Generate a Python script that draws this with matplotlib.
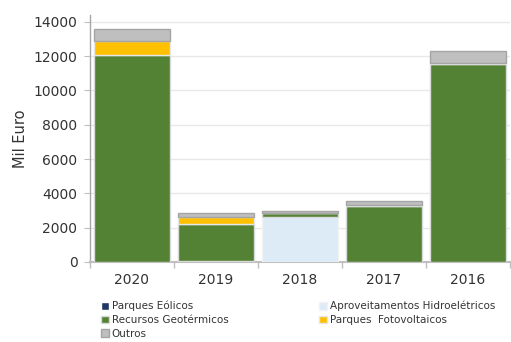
import matplotlib
matplotlib.use("Agg")
import matplotlib.pyplot as plt
import numpy as np

anos = ["2020", "2019", "2018", "2017", "2016"]
eolicos = [0, 0, 0, 0, 0]
hidro = [0, 60, 2610, 0, 0]
geotermicos = [12050, 2150, 220, 3250, 11520]
fotovoltaicos = [850, 390, 0, 50, 80]
outros = [680, 270, 170, 230, 700]

series = [
    ("Parques Eólicos", eolicos, "#203864", "#ffffff"),
    ("Aproveitamentos Hidroelétricos", hidro, "#DDEBF7", "#f2f2f2"),
    ("Recursos Geotérmicos", geotermicos, "#548235", "#d9d9d9"),
    ("Parques  Fotovoltaicos", fotovoltaicos, "#FFC000", "#e6e6e6"),
    ("Outros", outros, "#BFBFBF", "#A5A5A5"),
]

plt.rcParams["font.family"] = ["DejaVu Sans"]

fig = plt.figure(figsize=(5.11, 3.42), dpi=100)
ax = fig.add_axes([0.176, 0.234, 0.822, 0.722])

x = np.arange(len(anos))
base = np.zeros(len(anos))
handles = {}
for nome, vals, cor, borda in series:
    vals = np.array(vals, dtype=float)
    b = ax.bar(x, vals, width=0.9, bottom=base, color=cor,
               edgecolor=borda, linewidth=1.0, zorder=3, label=nome)
    handles[nome] = b
    base += vals

ax.set_xlim(-0.5, len(anos) - 0.5)
ax.set_ylim(0, 14400)
ax.set_yticks(np.arange(0, 14001, 2000))
ax.yaxis.grid(True, color="#e8e8e8", linewidth=1.0, zorder=0)
ax.set_axisbelow(True)

ax.set_xticks(x)
ax.set_xticklabels(anos, fontsize=10, color="#333333")
ax.set_xticks(np.arange(-0.5, len(anos), 1.0), minor=True)
ax.tick_params(axis="x", which="major", length=0, pad=8)
ax.tick_params(axis="x", which="minor", length=4, color="#bfbfbf", width=1.0)
ax.tick_params(axis="y", length=4, color="#bfbfbf", labelsize=10,
               labelcolor="#333333", pad=5)

for s in ["top", "right"]:
    ax.spines[s].set_visible(False)
ax.spines["left"].set_color("#a6a6a6")
ax.spines["left"].set_linewidth(1.0)
ax.spines["bottom"].set_color("#bfbfbf")
ax.spines["bottom"].set_linewidth(1.5)

ax.set_ylabel("Mil Euro", fontsize=10.5, color="#333333", labelpad=4)

kw = dict(loc="upper left", frameon=False, fontsize=7.5, handlelength=0.75,
          handleheight=0.75, handletextpad=0.25, labelspacing=0.35,
          borderpad=0, borderaxespad=0)
col1 = ["Parques Eólicos", "Recursos Geotérmicos", "Outros"]
col2 = ["Aproveitamentos Hidroelétricos", "Parques  Fotovoltaicos"]
leg1 = fig.legend([handles[n] for n in col1], col1,
                  bbox_to_anchor=(0.198, 0.12), **kw)
leg2 = fig.legend([handles[n] for n in col2], col2,
                  bbox_to_anchor=(0.625, 0.12), **kw)
for lg in (leg1, leg2):
    for t in lg.get_texts():
        t.set_color("#333333")

fig.savefig("out.png", dpi=100)
